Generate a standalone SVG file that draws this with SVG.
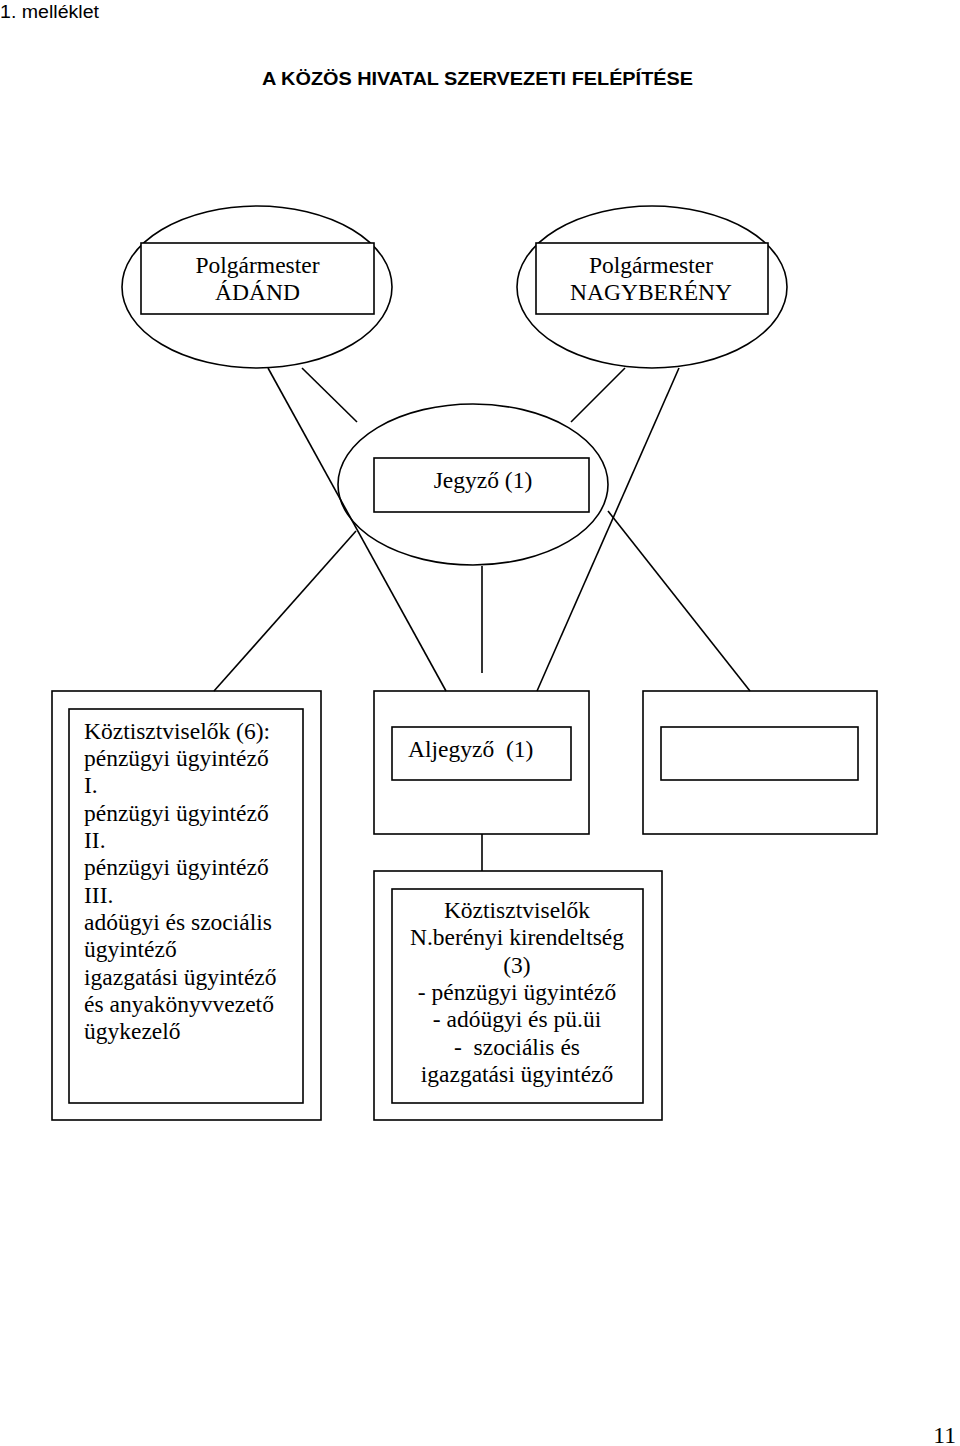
<svg xmlns="http://www.w3.org/2000/svg" width="960" height="1446" viewBox="0 0 960 1446">
<style>
.s{fill:none;stroke:#000;stroke-width:1.6}
.t{font-family:"Liberation Serif","Times New Roman",serif;font-size:23.5px;fill:#000}
.c{text-anchor:middle}
.h{font-family:"Liberation Sans",Arial,sans-serif;fill:#000}
</style>
<rect width="960" height="1446" fill="#fff"/>
<text class="h" x="0" y="18" font-size="18" textLength="99" lengthAdjust="spacingAndGlyphs">1. melléklet</text>
<text class="h" x="262" y="85" font-size="18" font-weight="bold" textLength="431" lengthAdjust="spacingAndGlyphs">A KÖZÖS HIVATAL SZERVEZETI FELÉPÍTÉSE</text>
<text class="t" x="956" y="1443" font-size="20" text-anchor="end">11</text>

<g id="connectors">
<line class="s" x1="268" y1="368" x2="446" y2="691"/>
<line class="s" x1="302" y1="368" x2="357" y2="422"/>
<line class="s" x1="625" y1="368" x2="571" y2="422"/>
<line class="s" x1="679" y1="368" x2="537" y2="691"/>
<line class="s" x1="482" y1="566" x2="482" y2="673"/>
<line class="s" x1="356" y1="531" x2="214" y2="691"/>
<line class="s" x1="608" y1="511" x2="750" y2="691"/>
<line class="s" x1="482" y1="834" x2="482" y2="871"/>
</g>

<g id="polgarmester-adand">
<ellipse class="s" cx="257" cy="287" rx="135" ry="81"/>
<rect x="141" y="243" width="233" height="71" fill="#fff" stroke="#000" stroke-width="1.6"/>
<text class="t c" x="257.5" y="273">Polgármester</text>
<text class="t c" x="257.5" y="300">ÁDÁND</text>
</g>

<g id="polgarmester-nagybereny">
<ellipse class="s" cx="652" cy="287" rx="135" ry="81"/>
<rect x="536" y="243" width="232" height="71" fill="#fff" stroke="#000" stroke-width="1.6"/>
<text class="t c" x="651" y="273">Polgármester</text>
<text class="t c" x="651" y="300">NAGYBERÉNY</text>
</g>

<g id="jegyzo">
<ellipse class="s" cx="473" cy="484.5" rx="135" ry="80.5"/>
<rect x="374" y="458" width="215" height="54" fill="#fff" stroke="#000" stroke-width="1.6"/>
<text class="t c" x="483" y="488">Jegyző (1)</text>
</g>

<g id="koztisztviselok-6">
<rect class="s" x="52" y="691" width="269" height="429"/>
<rect class="s" x="69" y="709" width="234" height="394"/>
<text class="t" x="84" y="739">Köztisztviselők (6):</text>
<text class="t" x="84" y="766">pénzügyi ügyintéző</text>
<text class="t" x="84" y="793">I.</text>
<text class="t" x="84" y="821">pénzügyi ügyintéző</text>
<text class="t" x="84" y="848">II.</text>
<text class="t" x="84" y="875">pénzügyi ügyintéző</text>
<text class="t" x="84" y="903">III.</text>
<text class="t" x="84" y="930">adóügyi és szociális</text>
<text class="t" x="84" y="957">ügyintéző</text>
<text class="t" x="84" y="985">igazgatási ügyintéző</text>
<text class="t" x="84" y="1012">és anyakönyvvezető</text>
<text class="t" x="84" y="1039">ügykezelő</text>
</g>

<g id="aljegyzo">
<rect class="s" x="374" y="691" width="215" height="143"/>
<rect class="s" x="392" y="727" width="179" height="53"/>
<text class="t" x="408" y="757" xml:space="preserve">Aljegyző  (1)</text>
</g>

<g id="ures">
<rect class="s" x="643" y="691" width="234" height="143"/>
<rect class="s" x="661" y="727" width="197" height="53"/>
</g>

<g id="kirendeltseg">
<rect class="s" x="374" y="871" width="288" height="249"/>
<rect class="s" x="392" y="889" width="251" height="214"/>
<text class="t c" x="517" y="918">Köztisztviselők</text>
<text class="t c" x="517" y="945">N.berényi kirendeltség</text>
<text class="t c" x="517" y="973">(3)</text>
<text class="t c" x="517" y="1000">- pénzügyi ügyintéző</text>
<text class="t c" x="517" y="1027">- adóügyi és pü.üi</text>
<text class="t c" x="517" y="1055" xml:space="preserve">-  szociális és</text>
<text class="t c" x="517" y="1082">igazgatási ügyintéző</text>
</g>
</svg>
